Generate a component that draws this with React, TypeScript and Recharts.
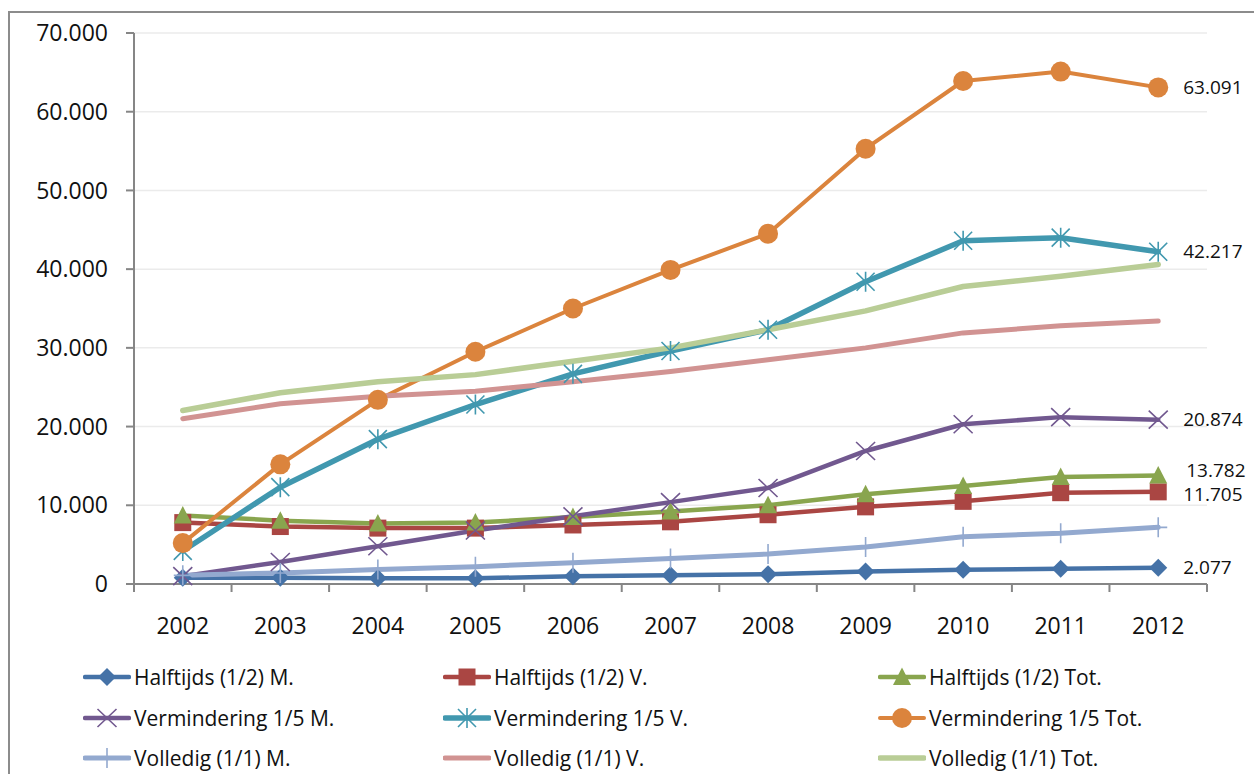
import React from 'react';
import { LineChart, Line, XAxis, YAxis, CartesianGrid, LabelList } from 'recharts';

const years = [2002, 2003, 2004, 2005, 2006, 2007, 2008, 2009, 2010, 2011, 2012];
const boundaryTicks = [2001.5, 2002.5, 2003.5, 2004.5, 2005.5, 2006.5, 2007.5, 2008.5, 2009.5, 2010.5, 2011.5, 2012.5];
const yTicks = [0, 10000, 20000, 30000, 40000, 50000, 60000, 70000];

const halftijdsM = [800, 780, 720, 720, 980, 1100, 1250, 1600, 1800, 1950, 2077];
const halftijdsV = [7800, 7300, 7100, 7100, 7500, 7900, 8800, 9800, 10500, 11600, 11705];
const halftijdsTot = [8700, 8050, 7700, 7800, 8500, 9200, 10000, 11400, 12450, 13600, 13782];
const verminderingM = [1000, 2800, 4800, 6800, 8600, 10400, 12200, 16900, 20300, 21200, 20874];
const verminderingV = [4200, 12300, 18400, 22800, 26700, 29600, 32300, 38400, 43600, 44000, 42217];
const verminderingTot = [5200, 15200, 23400, 29500, 35000, 39900, 44500, 55300, 63900, 65100, 63091];
const volledigM = [1100, 1400, 1850, 2200, 2700, 3250, 3800, 4700, 6000, 6450, 7200];
const volledigV = [21000, 22900, 23850, 24500, 25700, 27000, 28500, 30000, 31900, 32800, 33400];
const volledigTot = [22050, 24300, 25700, 26600, 28300, 30000, 32300, 34700, 37800, 39100, 40600];

const seriesNames = [
  'Halftijds (1/2) M.', 'Halftijds (1/2) V.', 'Halftijds (1/2) Tot.',
  'Vermindering 1/5 M.', 'Vermindering 1/5 V.', 'Vermindering 1/5 Tot.',
  'Volledig (1/1) M.', 'Volledig (1/1) V.', 'Volledig (1/1) Tot.',
];

type MarkerType = 'diamond' | 'square' | 'triangle' | 'x' | 'star' | 'circle' | 'plus' | 'none';

interface SeriesDef {
  key: string;
  values: number[];
  color: string;
  width: number;
  marker: MarkerType;
  label: boolean;
  ldx: number;
  ldy: number;
}

const series: SeriesDef[] = [
  { key: 's0', values: halftijdsM, color: '#4572A7', width: 4.5, marker: 'diamond', label: true, ldx: 0, ldy: 0 },
  { key: 's1', values: halftijdsV, color: '#AA4643', width: 4.5, marker: 'square', label: true, ldx: 0, ldy: 2 },
  { key: 's2', values: halftijdsTot, color: '#89A54E', width: 4.5, marker: 'triangle', label: true, ldx: 3, ldy: -5 },
  { key: 's3', values: verminderingM, color: '#71588F', width: 4.5, marker: 'x', label: true, ldx: 0, ldy: 0 },
  { key: 's4', values: verminderingV, color: '#4198AF', width: 5.5, marker: 'star', label: true, ldx: 0, ldy: 0 },
  { key: 's5', values: verminderingTot, color: '#DB843D', width: 4, marker: 'circle', label: true, ldx: 0, ldy: 0 },
  { key: 's6', values: volledigM, color: '#93A9CF', width: 5, marker: 'plus', label: false, ldx: 0, ldy: 0 },
  { key: 's7', values: volledigV, color: '#D19392', width: 5, marker: 'none', label: false, ldx: 0, ldy: 0 },
  { key: 's8', values: volledigTot, color: '#B9CD96', width: 5.5, marker: 'none', label: false, ldx: 0, ldy: 0 },
];

const data = years.map((year, i) => {
  const row: Record<string, number> = { year };
  series.forEach((s) => {
    row[s.key] = s.values[i];
  });
  return row;
});

const FONT = "'Open Sans', sans-serif";

const fmt = (v: number) => {
  const s = Math.round(v).toString();
  return s.replace(/\B(?=(\d{3})+(?!\d))/g, '.');
};

function Marker({ type, cx, cy, color }: { type: MarkerType; cx: number; cy: number; color: string }) {
  switch (type) {
    case 'diamond':
      return <polygon points={`${cx},${cy - 9} ${cx + 9},${cy} ${cx},${cy + 9} ${cx - 9},${cy}`} fill={color} />;
    case 'square':
      return <rect x={cx - 8.5} y={cy - 8.5} width={17} height={17} fill={color} />;
    case 'triangle':
      return <polygon points={`${cx},${cy - 9.5} ${cx + 9},${cy + 8} ${cx - 9},${cy + 8}`} fill={color} />;
    case 'x':
      return (
        <path
          d={`M${cx - 9.5},${cy - 9}L${cx + 9.5},${cy + 9}M${cx + 9.5},${cy - 9}L${cx - 9.5},${cy + 9}`}
          stroke={color}
          strokeWidth={1.6}
          fill="none"
        />
      );
    case 'star':
      return (
        <path
          d={`M${cx - 9},${cy - 9}L${cx + 9},${cy + 9}M${cx + 9},${cy - 9}L${cx - 9},${cy + 9}M${cx},${cy - 10}L${cx},${cy + 10}`}
          stroke={color}
          strokeWidth={1.6}
          fill="none"
        />
      );
    case 'circle':
      return <circle cx={cx} cy={cy} r={10} fill={color} />;
    case 'plus':
      return (
        <path
          d={`M${cx},${cy - 10}L${cx},${cy + 10}M${cx - 9},${cy}L${cx + 9},${cy}`}
          stroke={color}
          strokeWidth={1.6}
          fill="none"
        />
      );
    default:
      return null;
  }
}

const makeDot = (s: SeriesDef) => {
  if (s.marker === 'none') return false;
  return (p: any) => {
    if (p.cx == null || p.cy == null) return <g key={`d-${s.key}-${p.index}`} />;
    return (
      <g key={`d-${s.key}-${p.index}`}>
        <Marker type={s.marker} cx={p.cx} cy={p.cy} color={s.color} />
      </g>
    );
  };
};

const makeLabel = (s: SeriesDef) => (p: any) => {
  const { x, y, value, index } = p;
  if (index !== years.length - 1) return null;
  return (
    <text
      key={`l-${s.key}`}
      x={Number(x) + 25 + s.ldx}
      y={Number(y) + s.ldy}
      dy="0.355em"
      fontFamily={FONT}
      fontSize={19}
      fill="#111"
      textAnchor="start"
    >
      {fmt(Number(value))}
    </text>
  );
};

const legendCols = [83, 443, 878];
const legendRows = [677, 718, 758];

function LegendBox() {
  return (
    <>
      {series.map((s, i) => {
        const col = i % 3;
        const row = Math.floor(i / 3);
        return (
          <div
            key={s.key}
            style={{
              position: 'absolute',
              left: legendCols[col],
              top: legendRows[row] - 15,
              height: 30,
              display: 'flex',
              alignItems: 'center',
              whiteSpace: 'nowrap',
            }}
          >
            <svg width={48} height={30} style={{ display: 'block' }}>
              <line x1={2} y1={15} x2={46} y2={15} stroke={s.color} strokeWidth={s.width} strokeLinecap="round" />
              <Marker type={s.marker} cx={24} cy={15} color={s.color} />
            </svg>
            <span style={{ fontFamily: FONT, fontSize: 21, color: '#111', marginLeft: 3 }}>{seriesNames[i]}</span>
          </div>
        );
      })}
    </>
  );
}

export default function App() {
  return (
    <div style={{ position: 'relative', width: 1254, height: 774, background: '#fff', overflow: 'hidden' }}>
      <style>{`html,body{margin:0;padding:0;overflow:hidden;background:#fff}`}</style>
      <div
        style={{
          position: 'absolute',
          left: 8,
          top: 11,
          width: 1254,
          height: 800,
          borderTop: '2px solid #8c8c8c',
          borderLeft: '2px solid #8c8c8c',
        }}
      />
      <div style={{ position: 'absolute', left: 0, top: 0 }}>
        <LineChart width={1254} height={774} data={data} margin={{ top: 33, right: 47, bottom: 120, left: 0 }}>
          <CartesianGrid horizontal vertical={false} stroke="#ebebeb" strokeWidth={1.5} />
          <XAxis
            xAxisId="b"
            type="number"
            dataKey="year"
            domain={[2001.5, 2012.5]}
            allowDataOverflow
            ticks={years}
            interval={0}
            height={60}
            tickSize={0}
            tickMargin={24}
            axisLine={false}
            tickLine={false}
            tick={{ fontFamily: FONT, fontSize: 23, fill: '#111' }}
          />
          <XAxis
            xAxisId="a"
            type="number"
            dataKey="year"
            domain={[2001.5, 2012.5]}
            allowDataOverflow
            ticks={boundaryTicks}
            interval={0}
            tickFormatter={() => ''}
            height={10}
            tickSize={8}
            axisLine={{ stroke: '#868686', strokeWidth: 2 }}
            tickLine={{ stroke: '#868686', strokeWidth: 2 }}
          />
          <YAxis
            type="number"
            domain={[0, 70000]}
            ticks={yTicks}
            interval={0}
            width={134}
            tickSize={8}
            tickMargin={18}
            tickFormatter={(v: number) => fmt(v)}
            axisLine={{ stroke: '#868686', strokeWidth: 2 }}
            tickLine={{ stroke: '#868686', strokeWidth: 2 }}
            tick={{ fontFamily: FONT, fontSize: 23, fill: '#111' }}
          />
          {series.map((s, i) => (
            <Line
              key={s.key}
              xAxisId="b"
              type="linear"
              dataKey={s.key}
              name={seriesNames[i]}
              stroke={s.color}
              strokeWidth={s.width}
              strokeLinejoin="round"
              strokeLinecap="round"
              dot={makeDot(s) as any}
              activeDot={false}
              isAnimationActive={false}
            >
              {s.label ? <LabelList dataKey={s.key} content={makeLabel(s) as any} /> : null}
            </Line>
          ))}
        </LineChart>
      </div>
      <LegendBox />
    </div>
  );
}
